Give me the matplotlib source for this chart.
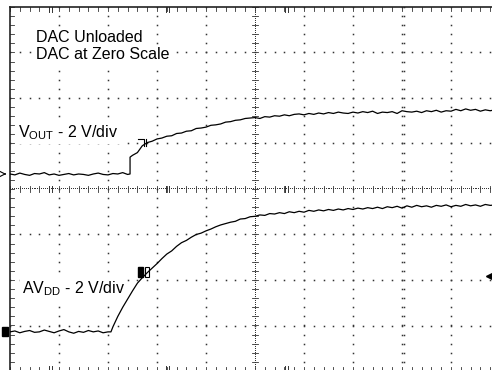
import numpy as np
import matplotlib
matplotlib.use("Agg")
import matplotlib.pyplot as plt
from matplotlib.patches import Rectangle

plt.rcParams['font.family'] = ['Liberation Sans', 'DejaVu Sans']
plt.rcParams['mathtext.fontset'] = 'custom'
plt.rcParams['mathtext.rm'] = 'Liberation Sans'

# time in divisions, level in divisions (2 V/div), 0 = screen centre
vout_t = [0.0, 0.1, 0.2, 0.3, 0.4, 0.5, 0.6, 0.7, 0.8, 0.9, 1.0, 1.1, 1.2, 1.3, 1.4, 1.5,
          1.6, 1.7, 1.8, 1.9, 2.0, 2.1, 2.2, 2.3, 2.4, 2.45, 2.45, 2.5, 2.6, 2.7, 2.8, 2.9,
          3.0, 3.1, 3.2, 3.3, 3.4, 3.5, 3.6, 3.7, 3.8, 3.9, 4.0, 4.1, 4.2, 4.3, 4.4, 4.5,
          4.6, 4.7, 4.8, 4.9, 5.0, 5.1, 5.2, 5.3, 5.4, 5.5, 5.6, 5.7, 5.8, 5.9, 6.0, 6.1,
          6.2, 6.3, 6.4, 6.5, 6.6, 6.7, 6.8, 6.9, 7.0, 7.1, 7.2, 7.3, 7.4, 7.5, 7.6, 7.7,
          7.8, 7.9, 8.0, 8.1, 8.2, 8.3, 8.4, 8.5, 8.6, 8.7, 8.8, 8.9, 9.0, 9.1, 9.2, 9.3,
          9.4, 9.5, 9.6, 9.7, 9.8, 9.9, 10.0]
vout_v = [0.33, 0.31, 0.35, 0.32, 0.30, 0.34, 0.33, 0.36, 0.31, 0.33, 0.30, 0.32, 0.34, 0.31,
          0.33, 0.32, 0.30, 0.33, 0.35, 0.32, 0.31, 0.34, 0.33, 0.36, 0.32, 0.33, 0.70, 0.74,
          0.80, 0.95, 1.02, 1.05, 1.10, 1.12, 1.16, 1.17, 1.22, 1.23, 1.27, 1.28, 1.33, 1.34,
          1.36, 1.40, 1.41, 1.43, 1.47, 1.48, 1.51, 1.52, 1.55, 1.56, 1.57, 1.55, 1.59, 1.58,
          1.61, 1.60, 1.63, 1.61, 1.64, 1.65, 1.63, 1.66, 1.64, 1.67, 1.65, 1.68, 1.66, 1.69,
          1.67, 1.66, 1.69, 1.67, 1.70, 1.68, 1.71, 1.66, 1.69, 1.68, 1.70, 1.66, 1.72, 1.70,
          1.69, 1.71, 1.68, 1.72, 1.70, 1.73, 1.69, 1.72, 1.71, 1.75, 1.72, 1.76, 1.73, 1.75,
          1.71, 1.74, 1.72, 1.74, 1.73]

avdd_t = [0.0, 0.1, 0.2, 0.3, 0.4, 0.5, 0.6, 0.7, 0.8, 0.9, 1.0, 1.1, 1.2, 1.3, 1.4, 1.5,
          1.6, 1.7, 1.8, 1.9, 2.0, 2.06, 2.1, 2.2, 2.3, 2.4, 2.5, 2.6, 2.7, 2.8, 2.9, 3.0,
          3.1, 3.2, 3.3, 3.4, 3.5, 3.6, 3.7, 3.8, 3.9, 4.0, 4.1, 4.2, 4.3, 4.4, 4.5, 4.6,
          4.7, 4.8, 4.9, 5.0, 5.1, 5.2, 5.3, 5.4, 5.5, 5.6, 5.7, 5.8, 5.9, 6.0, 6.1, 6.2,
          6.3, 6.4, 6.5, 6.6, 6.7, 6.8, 6.9, 7.0, 7.1, 7.2, 7.3, 7.4, 7.5, 7.6, 7.7, 7.8,
          7.9, 8.0, 8.1, 8.2, 8.3, 8.4, 8.5, 8.6, 8.7, 8.8, 8.9, 9.0, 9.1, 9.2, 9.3, 9.4,
          9.5, 9.6, 9.7, 9.8, 9.9, 10.0]
avdd_v = [-3.14, -3.12, -3.16, -3.13, -3.11, -3.15, -3.14, -3.10, -3.13, -3.16, -3.12, -3.09,
          -3.14, -3.17, -3.13, -3.15, -3.11, -3.14, -3.12, -3.16, -3.14, -3.14, -3.03, -2.80,
          -2.60, -2.42, -2.24, -2.07, -1.95, -1.84, -1.74, -1.64, -1.53, -1.43, -1.36, -1.26,
          -1.18, -1.13, -1.06, -1.00, -0.97, -0.92, -0.88, -0.83, -0.79, -0.76, -0.73, -0.71,
          -0.66, -0.65, -0.61, -0.60, -0.57, -0.58, -0.54, -0.55, -0.52, -0.54, -0.50, -0.52,
          -0.49, -0.51, -0.47, -0.49, -0.46, -0.48, -0.45, -0.47, -0.44, -0.46, -0.43, -0.45,
          -0.42, -0.44, -0.41, -0.43, -0.40, -0.43, -0.39, -0.41, -0.38, -0.42, -0.37, -0.40,
          -0.36, -0.39, -0.37, -0.40, -0.36, -0.38, -0.35, -0.39, -0.36, -0.38, -0.34, -0.37,
          -0.35, -0.38, -0.34, -0.36, -0.35, -0.36]

vout_ref = 0.33     # channel ground marker levels
avdd_ref = -3.14
trig_level = -1.91
cursor_t = 2.61     # trace cursor position

fig = plt.figure(figsize=(4.92, 3.70), dpi=100)
ax = fig.add_axes([10 / 492, -1 / 370, 490 / 492, 364 / 370])
ax.set_xlim(0, 10)
ax.set_ylim(-4, 4)
ax.axis('off')

gc = '#333333'
# dotted graticule
fine_v = np.arange(-4, 4.01, 0.2)
fine_t = np.arange(0, 10.01, 0.2)
for t in range(1, 10):
    if t == 5:
        continue
    ax.plot(np.full_like(fine_v, t), fine_v, ls='none', marker='s', ms=1.1, mew=0, color=gc)
ax.plot(np.full_like(fine_v, 8.04), fine_v, ls='none', marker='s', ms=1.1, mew=0, color=gc)
for v in range(-3, 4):
    if v == 0:
        continue
    ax.plot(fine_t, np.full_like(fine_t, v), ls='none', marker='s', ms=1.1, mew=0, color=gc)

# centre lines with fine ticks
dense_t = np.arange(0, 10.01, 0.04)
dense_v = np.arange(-4, 4.01, 0.044)
ax.plot(dense_t, np.zeros_like(dense_t), ls='none', marker=',', color=gc)
ax.plot(np.full_like(dense_v, 5), dense_v, ls='none', marker=',', color=gc)
for t in fine_t:
    ax.plot([t, t], [-0.07, 0.07], color=gc, lw=0.6)
    ax.plot([t, t], [4, 3.92], color=gc, lw=0.6)
    ax.plot([t, t], [-4, -3.92], color=gc, lw=0.6)
for v in fine_v:
    ax.plot([4.94, 5.06], [v, v], color=gc, lw=0.6)
    ax.plot([0, 0.08], [v, v], color=gc, lw=0.6)
for t in [0.82, 3.22, 5.65]:
    for dt in [-0.03, 0.03]:
        for y0, y1 in [(-0.06, 0.06), (4, 3.9), (-4, -3.9)]:
            ax.plot([t + dt, t + dt], [y0, y1], color=gc, lw=0.7)

# frame (left and top visible)
ax.plot([0, 0], [-4, 4], color='#222222', lw=1.2, clip_on=False)
ax.plot([0, 10], [4, 4], color='#222222', lw=1.2, clip_on=False)

# labels, blanking the graticule behind them
box = dict(facecolor='white', edgecolor='none', pad=1.5)
ax.text(0.53, 3.23, 'DAC Unloaded', fontsize=11.5, va='baseline', bbox=box, zorder=3)
ax.text(0.53, 2.86, 'DAC at Zero Scale', fontsize=11.5, va='baseline', bbox=box, zorder=3)
ax.text(0.16, 1.14, r'V$_{\mathrm{OUT}}$ - 2 V/div', fontsize=11.5, va='baseline',
        bbox=box, zorder=3)
ax.text(0.245, -2.29, r'AV$_{\mathrm{DD}}$ - 2 V/div', fontsize=11.5, va='baseline',
        bbox=box, zorder=3)

# traces
ax.plot(vout_t, vout_v, color='black', lw=0.9, zorder=4)
ax.plot(avdd_t, avdd_v, color='black', lw=0.9, zorder=4)

# cursor marks on the traces
ax.plot([cursor_t, cursor_t + 0.12, cursor_t + 0.12], [1.10, 1.10, 0.95], color='black',
        lw=0.8, zorder=5)
ax.plot([cursor_t + 0.17, cursor_t + 0.17], [1.10, 0.95], color='black', lw=0.8, zorder=5)
ax.add_patch(Rectangle((cursor_t, -1.93), 0.10, 0.22, facecolor='black', edgecolor='black',
                       zorder=5))
ax.add_patch(Rectangle((cursor_t + 0.15, -1.93), 0.08, 0.22, facecolor='none',
                       edgecolor='black', lw=0.8, zorder=5))

# channel and trigger markers
ax.annotate('', xy=(-0.02, vout_ref), xytext=(-0.17, vout_ref),
            arrowprops=dict(arrowstyle='->', lw=0.8, color='black'), annotation_clip=False)
ax.add_patch(Rectangle((-0.16, avdd_ref - 0.1), 0.12, 0.2, facecolor='black',
                       edgecolor='black', clip_on=False))
ax.plot([9.8], [trig_level], marker='<', ms=6, color='black', clip_on=False)

fig.savefig('out.png', dpi=100)
